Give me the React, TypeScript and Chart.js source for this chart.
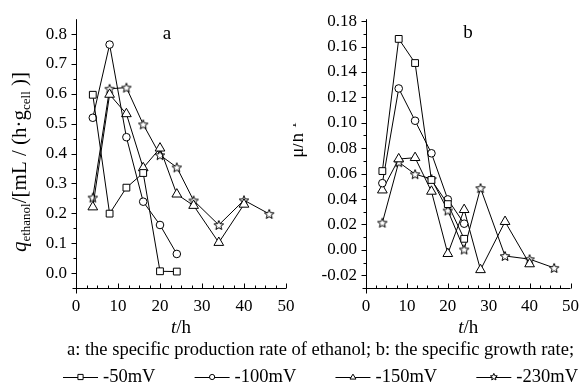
import React, { useEffect, useRef } from "react";
import { Chart, registerables } from "chart.js";
Chart.register(...registerables);

// ---------- data ----------
const seriesLabels = ["-50mV", "-100mV", "-150mV", "-230mV"];

const timeA50 = [4, 8, 12, 16, 20, 24];
const qA50 = [0.597, 0.199, 0.286, 0.335, 0.006, 0.005];
const timeA100 = [4, 8, 12, 16, 20, 24];
const qA100 = [0.52, 0.765, 0.455, 0.239, 0.161, 0.064];
const timeA150 = [4, 8, 12, 16, 20, 24, 28, 34, 40];
const qA150 = [0.221, 0.598, 0.533, 0.352, 0.418, 0.264, 0.226, 0.102, 0.23];
const timeA230 = [4, 8, 12, 16, 20, 24, 28, 34, 40, 46];
const qA230 = [0.253, 0.617, 0.621, 0.498, 0.395, 0.354, 0.243, 0.161, 0.244, 0.198];

const timeB50 = [4, 8, 12, 16, 20, 24];
const muB50 = [0.062, 0.166, 0.147, 0.055, 0.036, 0.0087];
const timeB100 = [4, 8, 12, 16, 20, 24];
const muB100 = [0.0525, 0.127, 0.1016, 0.076, 0.0397, 0.0206];
const timeB150 = [4, 8, 12, 16, 20, 24, 28, 34, 40];
const muB150 = [0.047, 0.0715, 0.0725, 0.046, -0.003, 0.0316, -0.0157, 0.0222, -0.0111];
const timeB230 = [4, 8, 12, 16, 20, 24, 28, 34, 40, 46];
const muB230 = [0.0214, 0.069, 0.0596, 0.0558, 0.031, 0.0003, 0.0486, -0.0048, -0.0073, -0.0142];

const xTickValues = [0, 10, 20, 30, 40, 50];
const yTickValuesA = [0, 0.1, 0.2, 0.3, 0.4, 0.5, 0.6, 0.7, 0.8];
const yTickValuesB = [-0.02, 0, 0.02, 0.04, 0.06, 0.08, 0.1, 0.12, 0.14, 0.16, 0.18];

const captionText = "a: the specific production rate of ethanol; b: the specific growth rate;";

// ---------- helpers ----------
const SERIF = "'Liberation Serif', 'Times New Roman', serif";
Chart.defaults.font.family = SERIF;
Chart.defaults.color = "#000";

type Run = { t: string; italic?: boolean; scale?: number; dy?: number };

function fontFor(r: Run, size: number) {
  const s = size * (r.scale ?? 1);
  return `${r.italic ? "italic " : ""}${s}px ${SERIF}`;
}
function runsWidth(ctx: CanvasRenderingContext2D, runs: Run[], size: number) {
  let w = 0;
  for (const r of runs) {
    ctx.font = fontFor(r, size);
    w += ctx.measureText(r.t).width;
  }
  return w;
}
function drawRuns(ctx: CanvasRenderingContext2D, runs: Run[], size: number, x: number, y: number) {
  ctx.textBaseline = "alphabetic";
  ctx.textAlign = "left";
  let cx = x;
  for (const r of runs) {
    ctx.font = fontFor(r, size);
    ctx.fillText(r.t, cx, y + (r.dy ?? 0));
    cx += ctx.measureText(r.t).width;
  }
}

function starPath(ctx: CanvasRenderingContext2D, cx: number, cy: number, ro: number, ri: number) {
  ctx.beginPath();
  for (let i = 0; i < 10; i++) {
    const ang = -Math.PI / 2 + (i * Math.PI) / 5;
    const r = i % 2 === 0 ? ro : ri;
    const px = cx + r * Math.cos(ang);
    const py = cy + r * Math.sin(ang);
    if (i === 0) ctx.moveTo(px, py);
    else ctx.lineTo(px, py);
  }
  ctx.closePath();
}

function makeStarImage(size: number, ro: number, ri: number) {
  const c = document.createElement("canvas");
  c.width = size;
  c.height = size;
  const g = c.getContext("2d")!;
  starPath(g, size / 2, size / 2 + 0.5, ro, ri);
  g.fillStyle = "#fff";
  g.fill();
  g.strokeStyle = "#000";
  g.lineWidth = 1;
  g.stroke();
  return c;
}

function drawMarker(ctx: CanvasRenderingContext2D, kind: number, x: number, y: number, r: number) {
  ctx.save();
  ctx.fillStyle = "#fff";
  ctx.strokeStyle = "#000";
  ctx.lineWidth = 1;
  ctx.beginPath();
  if (kind === 0) {
    ctx.rect(x - r, y - r, 2 * r, 2 * r);
  } else if (kind === 1) {
    ctx.arc(x, y, r, 0, Math.PI * 2);
  } else if (kind === 2) {
    ctx.moveTo(x, y - r * 1.1);
    ctx.lineTo(x + r * 1.15, y + r * 0.8);
    ctx.lineTo(x - r * 1.15, y + r * 0.8);
    ctx.closePath();
  } else {
    starPath(ctx, x, y, r * 1.2, r * 0.55);
  }
  ctx.fill();
  ctx.stroke();
  ctx.restore();
}

function makeDatasets(xsList: number[][], ysList: number[][], star: HTMLCanvasElement) {
  const styles: any[] = ["rect", "circle", "triangle", star];
  const radii = [4.8, 3.8, 5.6, 5];
  return xsList.map((xs, k) => ({
    label: seriesLabels[k],
    data: xs.map((x, i) => ({ x, y: ysList[k][i] })),
    borderColor: "#000",
    borderWidth: 1,
    backgroundColor: "#fff",
    pointBackgroundColor: "#fff",
    pointBorderColor: "#000",
    pointBorderWidth: 1,
    pointStyle: styles[k],
    pointRadius: radii[k],
    tension: 0,
    fill: false,
  }));
}

type PanelOpts = {
  label: string;
  labelPos: [number, number];
  yTitleRuns: Run[];
  yTitleSize: number;
  yTitleX: number;
  yTitleCY: number;
  yMinorStep: number;
  drawCaption: boolean;
};

function panelPlugin(o: PanelOpts) {
  return {
    id: "panelDeco",
    beforeDatasetsDraw(chart: any) {
      const ctx: CanvasRenderingContext2D = chart.ctx;
      const { left, right, top, bottom } = chart.chartArea;
      const xs = chart.scales.x;
      const ys = chart.scales.y;
      ctx.save();
      ctx.strokeStyle = "#000";
      ctx.lineWidth = 1;
      ctx.beginPath();
      const lx = Math.round(left) + 0.5;
      const by = Math.round(bottom) + 0.5;
      ctx.moveTo(lx, top);
      ctx.lineTo(lx, by + 5);
      ctx.moveTo(lx - 4, by);
      ctx.lineTo(right, by);
      for (let v = 0; v <= 50; v += 2.5) {
        const px = Math.round(xs.getPixelForValue(v)) + 0.5;
        const len = v % 10 === 0 ? 5 : 3;
        ctx.moveTo(px, by);
        ctx.lineTo(px, by - len);
      }
      const yv: number[] = ys.ticks.map((t: any) => t.value);
      for (const v of yv) {
        const py = Math.round(ys.getPixelForValue(v)) + 0.5;
        ctx.moveTo(lx, py);
        ctx.lineTo(lx - 5, py);
      }
      const mn = ys.min, mx = ys.max;
      for (let v = yv[0] - o.yMinorStep; v < mx; v += o.yMinorStep * 2) {
        if (v <= mn + 1e-9 || v >= mx - 1e-9) continue;
        const py = Math.round(ys.getPixelForValue(v)) + 0.5;
        ctx.moveTo(lx, py);
        ctx.lineTo(lx - 3, py);
      }
      ctx.stroke();
      ctx.restore();
    },
    afterDraw(chart: any) {
      const ctx: CanvasRenderingContext2D = chart.ctx;
      const { left, right } = chart.chartArea;
      ctx.save();
      ctx.fillStyle = "#000";
      ctx.font = `19px ${SERIF}`;
      ctx.textAlign = "center";
      ctx.textBaseline = "middle";
      ctx.fillText(o.label, o.labelPos[0], o.labelPos[1]);
      const xr: Run[] = [{ t: "t", italic: true }, { t: "/h" }];
      const xw = runsWidth(ctx, xr, 19);
      drawRuns(ctx, xr, 19, (left + right) / 2 - xw / 2, 333);
      const yw = runsWidth(ctx, o.yTitleRuns, o.yTitleSize);
      ctx.save();
      ctx.translate(o.yTitleX, o.yTitleCY);
      ctx.rotate(-Math.PI / 2);
      drawRuns(ctx, o.yTitleRuns, o.yTitleSize, -yw / 2, o.yTitleSize * 0.33);
      ctx.restore();
      if (o.drawCaption) {
        ctx.font = `18.5px ${SERIF}`;
        ctx.textAlign = "left";
        ctx.textBaseline = "middle";
        ctx.fillText(captionText, 67, 350);
        const fs = 18.5;
        ctx.font = `${fs}px ${SERIF}`;
        const seg = 14;
        const mk = 7;
        const symW = seg * 2 + mk;
        const gapIn = 5;
        const widths = seriesLabels.map((s) => symW + gapIn + ctx.measureText(s).width);
        const startX = 63, endX = 578;
        const total = widths.reduce((a, b) => a + b, 0);
        const gap = (endX - startX - total) / (seriesLabels.length - 1);
        let x = startX;
        const y = 377;
        seriesLabels.forEach((s, k) => {
          ctx.strokeStyle = "#000";
          ctx.lineWidth = 1;
          ctx.beginPath();
          ctx.moveTo(x, y + 0.5);
          ctx.lineTo(x + symW, y + 0.5);
          ctx.stroke();
          drawMarker(ctx, k, x + seg + mk / 2, y, k === 3 ? 3 : 2.6);
          ctx.fillStyle = "#000";
          ctx.font = `${fs}px ${SERIF}`;
          ctx.textAlign = "left";
          ctx.textBaseline = "middle";
          ctx.fillText(s, x + symW + gapIn, y);
          x += widths[k] + gap;
        });
      }
      ctx.restore();
    },
  };
}

function makeConfig(
  datasets: any[],
  yMin: number,
  yMax: number,
  yTicks: number[],
  decimals: number,
  padding: any,
  yWidth: number,
  plugin: any
): any {
  const tickFont = { family: SERIF, size: 17 };
  return {
    type: "line",
    data: { datasets },
    options: {
      animation: false,
      responsive: false,
      devicePixelRatio: 1,
      layout: { padding },
      plugins: { legend: { display: false }, tooltip: { enabled: false } },
      scales: {
        x: {
          type: "linear",
          min: 0,
          max: 50,
          afterBuildTicks: (s: any) => {
            s.ticks = xTickValues.map((v) => ({ value: v }));
          },
          afterFit: (s: any) => {
            s.height = 40;
          },
          ticks: {
            color: "#000",
            font: tickFont,
            padding: 8,
            maxRotation: 0,
            autoSkip: false,
            callback: (v: any) => String(v),
          },
          grid: { display: false, drawTicks: false },
          border: { display: false },
        },
        y: {
          type: "linear",
          min: yMin,
          max: yMax,
          afterBuildTicks: (s: any) => {
            s.ticks = yTicks.map((v) => ({ value: v }));
          },
          afterFit: (s: any) => {
            s.width = yWidth;
          },
          ticks: {
            color: "#000",
            font: tickFont,
            padding: 9,
            autoSkip: false,
            callback: (v: any) => Number(v).toFixed(decimals),
          },
          grid: { display: false, drawTicks: false },
          border: { display: false },
        },
      },
    },
    plugins: [plugin],
  };
}

export default function App() {
  const refA = useRef<HTMLCanvasElement>(null);
  const refB = useRef<HTMLCanvasElement>(null);

  useEffect(() => {
    const star = makeStarImage(12, 5, 2.2);
    const dsA = makeDatasets([timeA50, timeA100, timeA150, timeA230], [qA50, qA100, qA150, qA230], star);
    const dsB = makeDatasets([timeB50, timeB100, timeB150, timeB230], [muB50, muB100, muB150, muB230], star);

    const pluginA = panelPlugin({
      label: "a",
      labelPos: [167, 34],
      yTitleRuns: [
        { t: "q", italic: true },
        { t: "ethanol", scale: 0.62, dy: 4 },
        { t: "/[mL / (h·g" },
        { t: "cell", scale: 0.62, dy: 4 },
        { t: " )]" },
      ],
      yTitleSize: 21,
      yTitleX: 19,
      yTitleCY: 162,
      yMinorStep: 0.05,
      drawCaption: true,
    });
    const pluginB = panelPlugin({
      label: "b",
      labelPos: [468 - 293, 33],
      yTitleRuns: [{ t: "μ/h" }, { t: "-1", scale: 0.68, dy: -7 }],
      yTitleSize: 19,
      yTitleX: 297 - 293,
      yTitleCY: 140,
      yMinorStep: 0.01,
      drawCaption: false,
    });

    const chartA = new Chart(
      refA.current!,
      makeConfig(dsA, -0.05, 0.85, yTickValuesA, 1, { left: 0, top: 11.7, right: 301, bottom: 64 }, 76, pluginA)
    );
    const chartB = new Chart(
      refB.current!,
      makeConfig(dsB, -0.03, 0.1815, yTickValuesB, 2, { left: 0, top: 11, right: 11, bottom: 64 }, 73, pluginB)
    );
    return () => {
      chartA.destroy();
      chartB.destroy();
    };
  }, []);

  return (
    <div style={{ position: "absolute", left: 0, top: 0, width: 587, height: 392, background: "#fff" }}>
      <canvas ref={refA} width={587} height={392} style={{ position: "absolute", left: 0, top: 0 }} />
      <canvas ref={refB} width={294} height={392} style={{ position: "absolute", left: 293, top: 0 }} />
    </div>
  );
}
